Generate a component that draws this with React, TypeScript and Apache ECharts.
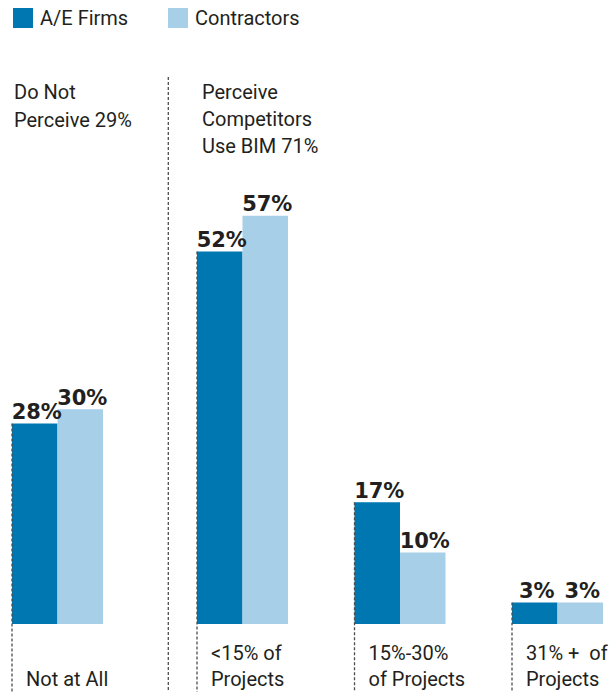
import React, { useEffect, useRef } from 'react';
import * as echarts from 'echarts';

const categories = ['Not at All', '<15% of\nProjects', '15%-30%\nof Projects', '31% +  of\nProjects'];
const aeFirms = [28, 52, 17, 3];
const contractors = [30, 57, 10, 3];
const seriesNames = ['A/E Firms', 'Contractors'];
const notes = ['Do Not\nPerceive 29%', 'Perceive\nCompetitors\nUse BIM 71%'];

const DARK = '#0077b0';
const LIGHT = '#a7cfe8';
const INK = '#231f20';
const DASH = '#4d4d4d';
const BAR_W = 45.5;
const W = 613;
const H = 692;
const COND = 'Roboto, "Liberation Sans", sans-serif';

export default function App() {
  const ref = useRef<HTMLDivElement>(null);

  useEffect(() => {
    if (!ref.current) return;
    const chart = echarts.init(ref.current, null, { renderer: 'svg' });

    const barLabel = {
      show: true,
      position: 'top',
      distance: 1,
      offset: [2, 0],
      formatter: '{c}%',
      fontFamily: '"DejaVu Sans", sans-serif',
      fontWeight: 'bold',
      fontSize: 21,
      color: INK,
    };

    const axisLabel = {
      interval: 0,
      align: 'left',
      verticalAlign: 'bottom',
      margin: 68,
      padding: [0, 0, 0, -(BAR_W - 14)],
      fontFamily: COND,
      fontSize: 20,
      lineHeight: 26,
      color: INK,
    };

    const legendBase = {
      top: 3,
      itemWidth: 20,
      itemHeight: 20,
      icon: 'rect',
      textStyle: { fontFamily: COND, fontSize: 20, color: INK, padding: [0, 0, 0, 2] },
    };

    const groups = [
      { cats: categories.slice(0, 1), a: aeFirms.slice(0, 1), c: contractors.slice(0, 1) },
      { cats: categories.slice(1), a: aeFirms.slice(1), c: contractors.slice(1) },
    ];

    const series: any[] = [];
    groups.forEach((g, gi) => {
      series.push({
        name: seriesNames[0], type: 'bar', xAxisIndex: gi, yAxisIndex: gi,
        data: g.a, barWidth: BAR_W, barGap: '0%', itemStyle: { color: DARK }, label: barLabel,
      });
      series.push({
        name: seriesNames[1], type: 'bar', xAxisIndex: gi, yAxisIndex: gi,
        data: g.c, barWidth: BAR_W, barGap: '0%', itemStyle: { color: LIGHT }, label: barLabel,
      });
    });

    chart.setOption({
      animation: false,
      backgroundColor: '#ffffff',
      legend: [
        { ...legendBase, left: 8, data: [seriesNames[0]] },
        { ...legendBase, left: 163, data: [seriesNames[1]] },
      ],
      grid: [
        { left: 0, top: 51, width: 115, height: 573 },
        { left: 242.5, top: 51, width: 315, height: 573 },
      ],
      xAxis: groups.map((g, gi) => ({
        gridIndex: gi, type: 'category', data: g.cats, boundaryGap: gi === 0,
        axisLine: { show: false }, axisTick: { show: false }, axisLabel,
      })),
      yAxis: groups.map((_, gi) => ({ gridIndex: gi, type: 'value', min: 0, max: 80, show: false })),
      series,
    });

    const graphic: any[] = [];
    groups.forEach((g, gi) => {
      g.cats.forEach((cat, i) => {
        const p = chart.convertToPixel({ gridIndex: gi } as any, [cat, g.a[i]]) as number[];
        const x = p[0] - BAR_W;
        graphic.push({
          type: 'line', z: 100,
          shape: { x1: x, y1: p[1], x2: x, y2: H },
          style: { stroke: DASH, lineWidth: 1.3, lineDash: [3, 2] },
        });
      });
    });
    graphic.push({
      type: 'line', z: 100,
      shape: { x1: 168.3, y1: 77, x2: 168.3, y2: H },
      style: { stroke: DASH, lineWidth: 1.3, lineDash: [3, 2] },
    });
    graphic.push({
      type: 'text', x: 14, y: 78.5, z: 100,
      style: { text: notes[0], fontFamily: COND, fontSize: 20, lineHeight: 27.5, fill: INK, verticalAlign: 'top' },
    });
    graphic.push({
      type: 'text', x: 202, y: 78.5, z: 100,
      style: { text: notes[1], fontFamily: COND, fontSize: 20, lineHeight: 27, fill: INK, verticalAlign: 'top' },
    });
    chart.setOption({ graphic });

    return () => chart.dispose();
  }, []);

  return (
    <div
      ref={ref}
      style={{ position: 'fixed', left: 0, top: 0, width: W, height: H, background: '#fff' }}
    />
  );
}
